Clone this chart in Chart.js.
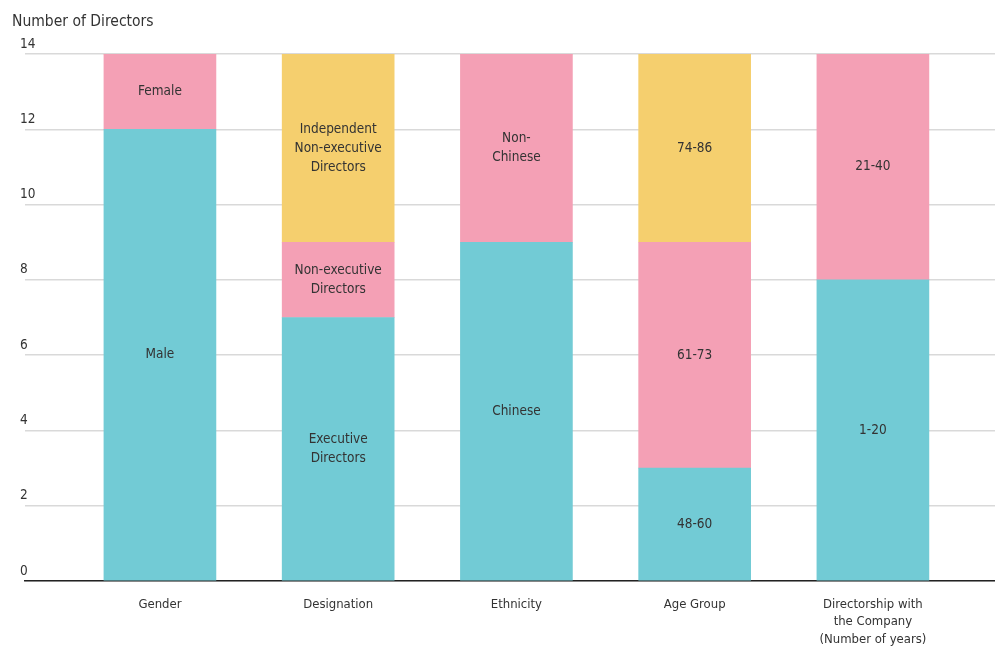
<!DOCTYPE html>
<html>
<head>
<meta charset="utf-8">
<script src="https://cdn.jsdelivr.net/npm/chart.js@4"></script>
<style>
  html, body { margin: 0; padding: 0; background: #fff; }
  #wrap { width: 995px; height: 648px; }
</style>
</head>
<body>
<div id="wrap"><canvas id="myChart"></canvas></div>
<script>
'use strict';
// data
const categories = ['Gender', 'Designation', 'Ethnicity', 'Age Group', ['Directorship with', 'the Company', '(Number of years)']];
const bottomValues = [12, 7, 9, 3, 8];
const middleValues = [2, 2, 5, 6, 6];
const topValues = [0, 5, 0, 5, 0];
const bottomLabels = ['Male', ['Executive', 'Directors'], 'Chinese', '48-60', '1-20'];
const middleLabels = ['Female', ['Non-executive', 'Directors'], ['Non-', 'Chinese'], '61-73', '21-40'];
const topLabels = ['', ['Independent', 'Non-executive', 'Directors'], '', '74-86', ''];
const yTicks = [0, 2, 4, 6, 8, 10, 12, 14];

const FONT = "'DejaVu Sans Condensed', 'DejaVu Sans', sans-serif";
const TEXT = '#333333';

const toPoints = values => values.map((v, i) => ({ x: i, y: v }));

// labels inside the bar segments
const segmentLabels = {
    id: 'segmentLabels',
    afterDatasetsDraw(chart) {
        const ctx = chart.ctx;
        ctx.save();
        ctx.font = `13.5px ${FONT}`;
        ctx.fillStyle = TEXT;
        ctx.textAlign = 'center';
        ctx.textBaseline = 'middle';
        chart.data.datasets.forEach((ds, di) => {
            const meta = chart.getDatasetMeta(di);
            meta.data.forEach((bar, i) => {
                if (!ds.data[i].y) return;
                let lines = ds.segLabels[i];
                if (!lines) return;
                if (!Array.isArray(lines)) lines = [lines];
                const mid = (bar.y + bar.base) / 2;
                const lh = 19;
                lines.forEach((line, li) => {
                    ctx.fillText(line, bar.x, mid + (li - (lines.length - 1) / 2) * lh);
                });
            });
        });
        ctx.restore();
    }
};

const ctx = document.getElementById('myChart');
new Chart(ctx.getContext('2d'), {
    type: 'bar',
    data: {
        datasets: [{
            label: 'bottom',
            data: toPoints(bottomValues),
            segLabels: bottomLabels,
            backgroundColor: '#72cbd5'
        }, {
            label: 'middle',
            data: toPoints(middleValues),
            segLabels: middleLabels,
            backgroundColor: '#f4a0b5'
        }, {
            label: 'top',
            data: toPoints(topValues),
            segLabels: topLabels,
            backgroundColor: '#f5cf6e'
        }]
    },
    plugins: [segmentLabels],
    options: {
        responsive: true,
        maintainAspectRatio: false,
        animation: false,
        layout: { padding: { left: 12, right: 0, top: 0, bottom: 0 } },
        datasets: {
            bar: { barThickness: 112, borderWidth: 0 }
        },
        plugins: {
            legend: { display: false },
            tooltip: { enabled: false },
            title: {
                display: true,
                text: 'Number of Directors',
                align: 'start',
                color: TEXT,
                font: { family: FONT, size: 15.5, weight: 'normal' },
                padding: { top: 13, bottom: 22.4 }
            }
        },
        scales: {
            x: {
                type: 'linear',
                stacked: true,
                offset: false,
                min: -0.757,
                max: 4.685,
                afterBuildTicks: scale => {
                    scale.ticks = categories.map((c, i) => ({ value: i }));
                },
                afterFit: scale => { scale.height = 67; },
                grid: { display: false, drawTicks: false },
                border: { display: true, color: '#222222', width: 1.5 },
                ticks: {
                    autoSkip: false,
                    maxRotation: 0,
                    padding: 14.5,
                    color: TEXT,
                    font: { family: FONT, size: 13, lineHeight: 1.35 },
                    callback: value => categories[value]
                }
            },
            y: {
                stacked: true,
                min: 0,
                max: 14,
                afterBuildTicks: scale => {
                    scale.ticks = yTicks.map(v => ({ value: v }));
                },
                afterFit: scale => { scale.width = 13; },
                grid: { color: '#d9d9d9', lineWidth: 1.5, drawTicks: false },
                border: { display: false },
                ticks: {
                    mirror: true,
                    padding: -5,
                    labelOffset: -10,
                    color: TEXT,
                    font: { family: FONT, size: 13.5 }
                }
            }
        }
    }
});
</script>
</body>
</html>
